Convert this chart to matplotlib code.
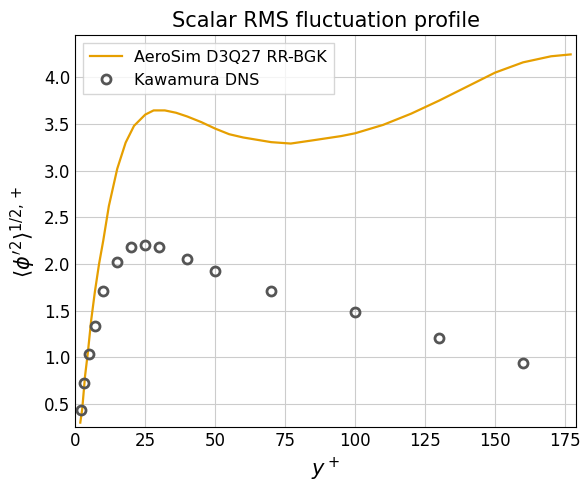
import matplotlib
matplotlib.use("Agg")
import matplotlib.pyplot as plt

sim_y = [1.8, 2.5, 3.5, 4.5, 5.7, 7, 8.5, 10, 12, 15, 18, 21, 25, 28, 32, 36, 40, 45, 50, 55, 60, 65, 70, 77, 85, 95, 100, 110, 120, 130, 140, 150, 160, 170, 177]
sim_v = [0.30, 0.45, 0.80, 1.05, 1.40, 1.70, 2.00, 2.25, 2.62, 3.02, 3.30, 3.48, 3.60, 3.645, 3.645, 3.62, 3.58, 3.52, 3.45, 3.39, 3.355, 3.33, 3.305, 3.29, 3.325, 3.37, 3.40, 3.49, 3.61, 3.75, 3.90, 4.05, 4.16, 4.225, 4.245]
dns_y = [2, 3, 5, 7, 10, 15, 20, 25, 30, 40, 50, 70, 100, 130, 160]
dns_v = [0.44, 0.72, 1.04, 1.34, 1.71, 2.02, 2.18, 2.20, 2.18, 2.05, 1.92, 1.71, 1.49, 1.21, 0.94]

fig, ax = plt.subplots(figsize=(5.88, 4.90), dpi=100)
fig.subplots_adjust(left=0.128, right=0.98, top=0.928, bottom=0.128)
ax.plot(sim_y, sim_v, color="#E69F00", lw=1.6, label="AeroSim D3Q27 RR-BGK")
ax.plot(dns_y, dns_v, 'o', mfc='none', mec='#555555', mew=2, ms=6.5, label="Kawamura DNS")
ax.set_xlim(0, 179)
ax.set_ylim(0.25, 4.45)
ax.set_xticks(range(0, 176, 25))
ax.set_yticks([0.5, 1.0, 1.5, 2.0, 2.5, 3.0, 3.5, 4.0])
ax.grid(True, color="#cccccc", lw=0.8)
ax.set_axisbelow(True)
ax.tick_params(direction='in', labelsize=12, length=0)
ax.set_xlabel(r"$y^+$", fontsize=15)
ax.set_ylabel(r"$\langle \phi'^2\rangle^{1/2,+}$", fontsize=15)
ax.set_title("Scalar RMS fluctuation profile", fontsize=15)
ax.legend(loc='upper left', fontsize=11.5, fancybox=False, edgecolor='#cccccc')
fig.savefig("out.png")
